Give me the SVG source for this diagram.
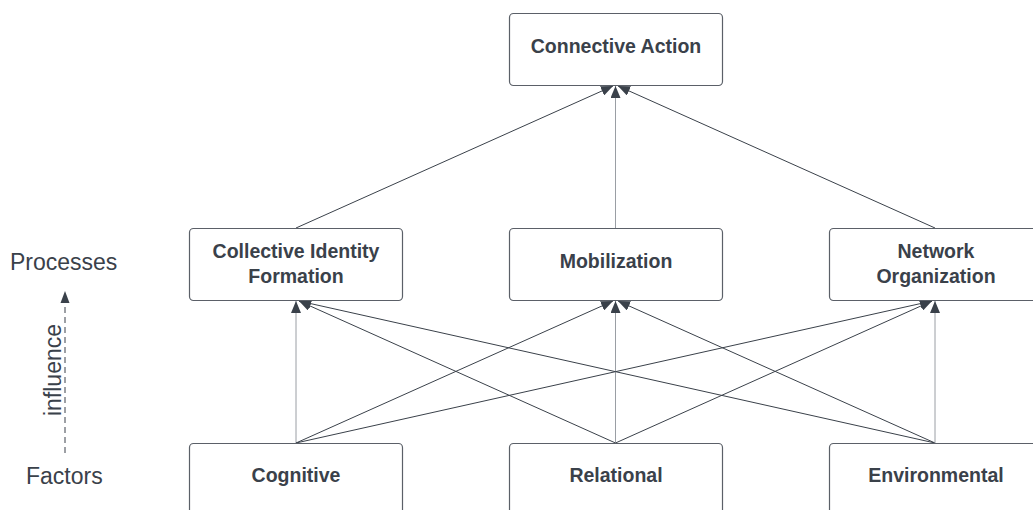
<svg xmlns="http://www.w3.org/2000/svg" width="1033" height="510" viewBox="0 0 1033 510">
<style>
.box{fill:#fff;stroke:#5b6068;stroke-width:1.2}
.t{font-family:"Liberation Sans",Arial,sans-serif;font-weight:bold;font-size:19.5px;fill:#3a414a;text-anchor:middle}
.lbl{font-family:"Liberation Sans",Arial,sans-serif;font-size:23px;fill:#3a414a}
.d{stroke:#3a414a;stroke-width:1;fill:none}
.v{stroke:#9a9ea4;stroke-width:1;fill:none}
</style>
<defs>
<marker id="ah" viewBox="0 0 12 10" refX="12" refY="5" markerWidth="12" markerHeight="10" markerUnits="userSpaceOnUse" orient="auto">
<path d="M0,0 L12,5 L0,10 z" fill="#3a414a"/>
</marker>
</defs>
<rect width="1033" height="510" fill="#fff"/>
<g id="connectors">
<line class="d" x1="296" y1="228" x2="613" y2="86" marker-end="url(#ah)"/>
<line class="v" x1="615.5" y1="228" x2="615.5" y2="86" marker-end="url(#ah)"/>
<line class="d" x1="935" y1="228" x2="618" y2="86" marker-end="url(#ah)"/>
<line class="v" x1="296" y1="443" x2="296" y2="301" marker-end="url(#ah)"/>
<line class="d" x1="296" y1="443" x2="613" y2="301" marker-end="url(#ah)"/>
<line class="d" x1="296" y1="443" x2="932" y2="301" marker-end="url(#ah)"/>
<line class="d" x1="615.5" y1="443" x2="299" y2="301" marker-end="url(#ah)"/>
<line class="v" x1="615.5" y1="443" x2="615.5" y2="301" marker-end="url(#ah)"/>
<line class="d" x1="615.5" y1="443" x2="932" y2="301" marker-end="url(#ah)"/>
<line class="d" x1="935" y1="443" x2="299" y2="301" marker-end="url(#ah)"/>
<line class="d" x1="935" y1="443" x2="618" y2="301" marker-end="url(#ah)"/>
<line class="v" x1="935" y1="443" x2="935" y2="301" marker-end="url(#ah)"/>
</g>
<g id="legend">
<text class="lbl" x="10" y="270" font-size="24">Processes</text>
<text class="lbl" x="26" y="484">Factors</text>
<line x1="65" y1="453" x2="65" y2="300" stroke="#3a414a" stroke-width="1" stroke-dasharray="6,4"/>
<path d="M65,291 L60.5,303 L69.5,303 z" fill="#3a414a"/>
<text class="lbl" transform="translate(61,370) rotate(-90)" text-anchor="middle">influence</text>
</g>
<g id="connective-action">
<rect class="box" x="509.5" y="13.5" width="213" height="72" rx="4"/>
<text class="t" x="616" y="53">Connective Action</text>
</g>
<g id="collective-identity">
<rect class="box" x="189.5" y="228.5" width="213" height="72" rx="4"/>
<text class="t" x="296" y="258">Collective Identity</text>
<text class="t" x="296" y="283">Formation</text>
</g>
<g id="mobilization">
<rect class="box" x="509.5" y="228.5" width="213" height="72" rx="4"/>
<text class="t" x="616" y="268">Mobilization</text>
</g>
<g id="network-organization">
<rect class="box" x="829.5" y="228.5" width="213" height="72" rx="4"/>
<text class="t" x="936" y="258">Network</text>
<text class="t" x="936" y="283">Organization</text>
</g>
<g id="cognitive">
<rect class="box" x="189.5" y="443.5" width="213" height="80" rx="4"/>
<text class="t" x="296" y="482">Cognitive</text>
</g>
<g id="relational">
<rect class="box" x="509.5" y="443.5" width="213" height="80" rx="4"/>
<text class="t" x="616" y="482">Relational</text>
</g>
<g id="environmental">
<rect class="box" x="829.5" y="443.5" width="213" height="80" rx="4"/>
<text class="t" x="936" y="482">Environmental</text>
</g>
</svg>
